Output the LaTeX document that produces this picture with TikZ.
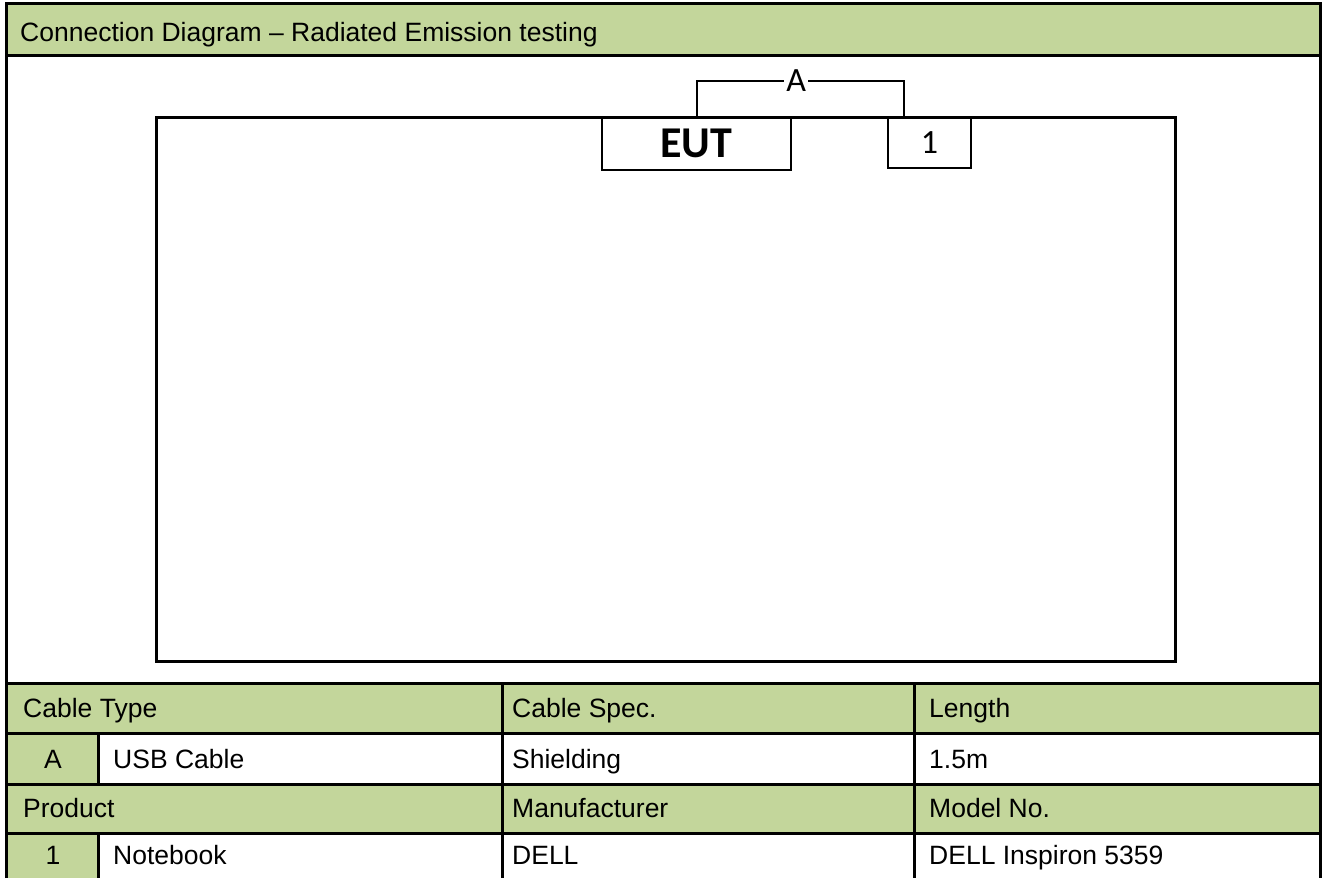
\documentclass[tikz,border=0pt]{standalone}
\usepackage{fontspec}
\setmainfont{Liberation Sans}
\newfontfamily\carl{Carlito}
\definecolor{hdr}{RGB}{195,214,155}
\begin{document}
\begin{tikzpicture}[x=1pt,y=-1pt,
  frame/.style={line width=3pt},
  txt/.style={anchor=base west, inner sep=0pt, font=\fontsize{26.5}{30}\selectfont},
  ctxt/.style={anchor=base, inner sep=0pt, font=\fontsize{26.5}{30}\selectfont},
  unit/.style={draw, line width=2pt, inner sep=0pt, anchor=north west},
  cable/.style={line width=2pt}]
\useasboundingbox (0,0) rectangle (1322,878);
% green fills
\fill[hdr] (6,3) rectangle (1320,55);
\fill[hdr] (6,683) rectangle (1320,733);
\fill[hdr] (6,733) rectangle (98,784);
\fill[hdr] (6,784) rectangle (1320,833);
\fill[hdr] (6,833) rectangle (98,878);
% frame and grid
\draw[frame] (6,878) -- (6,3) -- (1320,3) -- (1320,878);
\draw[frame] (6,55) -- (1320,55);
\foreach \yy in {683,733,784,833} \draw[frame] (6,\yy) -- (1320,\yy);
\draw[frame] (98,733) -- (98,784);
\draw[frame] (98,833) -- (98,878);
\draw[frame] (502,683) -- (502,878);
\draw[frame] (914,683) -- (914,878);
% header text
\node[txt] (title) at (20,41.5) {Connection Diagram -- Radiated Emission testing};
% table texts
\node[txt] (ct) at (23,717) {Cable Type};
\node[txt] (cs) at (512,717) {Cable Spec.};
\node[txt] (len) at (929,717) {Length};
\node[ctxt] (ca) at (53,768) {A};
\node[txt] (usb) at (113,768) {USB Cable};
\node[txt] (sh) at (512,768) {Shielding};
\node[txt] (lv) at (929,768) {1.5m};
\node[txt] (pr) at (23,817) {Product};
\node[txt] (mf) at (512,817) {Manufacturer};
\node[txt] (mn) at (929,817) {Model No.};
\node[ctxt] (p1) at (53,864) {1};
\node[txt] (nb) at (113,864) {Notebook};
\node[txt] (dl) at (512,864) {DELL};
\node[txt] (md) at (929,864) {DELL Inspiron 5359};
% test area
\node[draw, line width=3pt, inner sep=0pt, anchor=north west,
      minimum width=1019pt, minimum height=544pt] (room) at (155,116) {};
\node[unit, minimum width=189pt, minimum height=53pt,
      font=\carl\bfseries\fontsize{44}{44}\selectfont] (eut) at (601,116) {EUT};
\node[unit, minimum width=83pt, minimum height=51pt,
      font=\carl\fontsize{34}{34}\selectfont] (n1) at (887,116) {\raisebox{-4pt}{1}};
\draw[cable] (eut.north) -- ++(0,-35) coordinate (ca1)
  -| ([xshift=17pt]n1.north west)
  node[pos=0.24, fill=white, inner sep=2pt, font=\carl\fontsize{34}{34}\selectfont] (lblA) {A};
\end{tikzpicture}
\end{document}
